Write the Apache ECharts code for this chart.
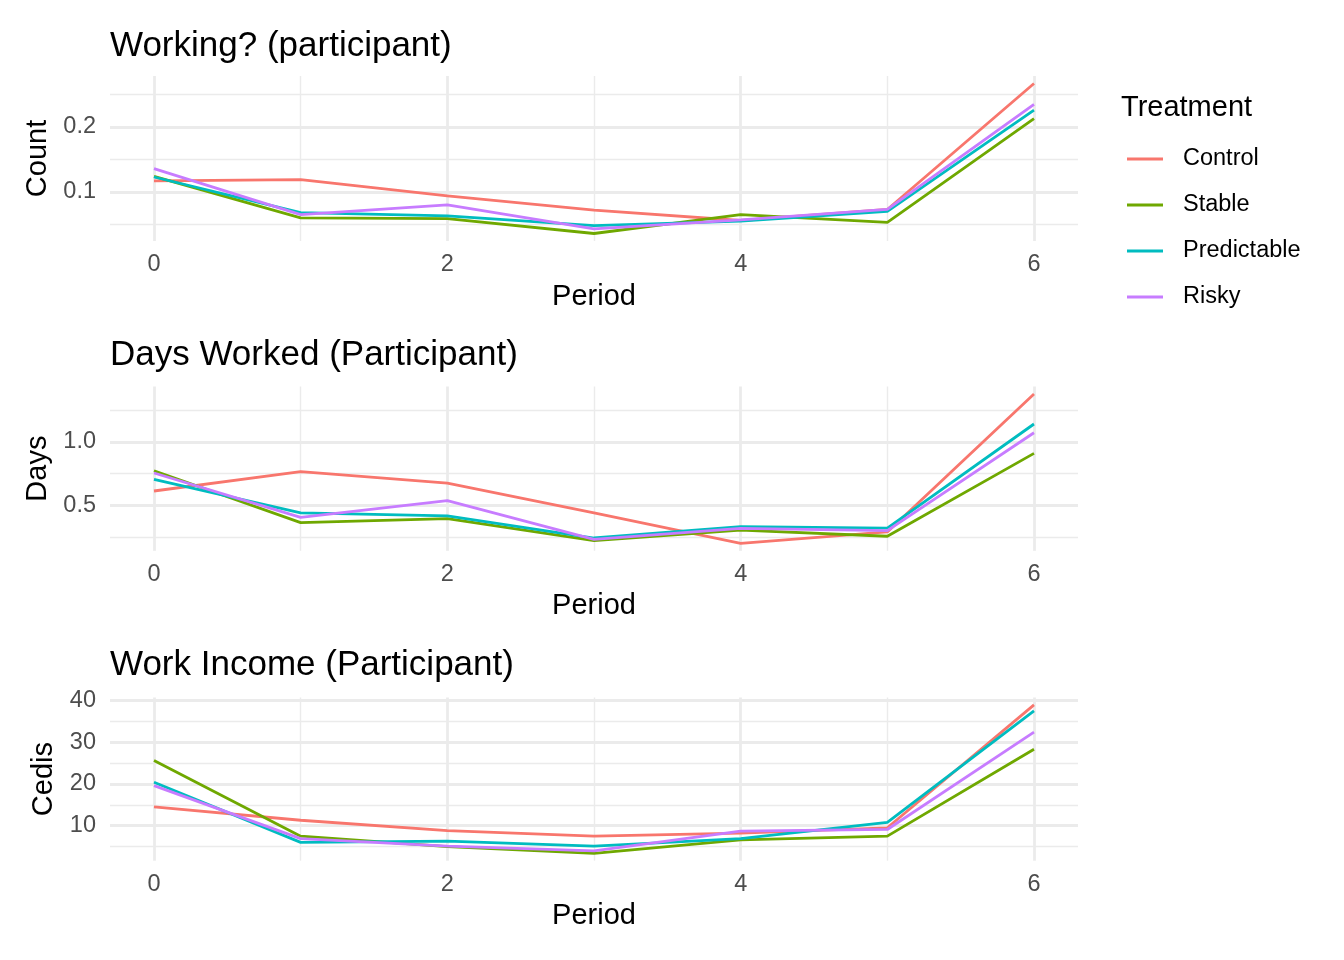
<!DOCTYPE html>
<html>
<head>
<meta charset="utf-8">
<script src="https://cdn.jsdelivr.net/npm/echarts@6/dist/echarts.min.js"></script>
<style>
html,body{margin:0;padding:0;background:#fff;}
#chart{width:1344px;height:960px;}
</style>
</head>
<body>
<div id="chart"></div>
<script>
// ---- data ----
const periods = [0, 1, 2, 3, 4, 5, 6];
const treatments = ['Control', 'Stable', 'Predictable', 'Risky'];
const panelTitles = ['Working? (participant)', 'Days Worked (Participant)', 'Work Income (Participant)'];
const yTitles = ['Count', 'Days', 'Cedis'];
const xTitle = 'Period';
const xTickLabels = [0, 2, 4, 6];
const xMinorTicks = [1, 3, 5];

const workingControl     = [0.117, 0.119, 0.094, 0.072, 0.056, 0.073, 0.267];
const workingStable      = [0.124, 0.060, 0.059, 0.036, 0.065, 0.053, 0.213];
const workingPredictable = [0.123, 0.068, 0.063, 0.048, 0.055, 0.070, 0.226];
const workingRisky       = [0.136, 0.065, 0.080, 0.043, 0.057, 0.073, 0.235];

const daysControl     = [0.613, 0.766, 0.676, 0.440, 0.200, 0.290, 1.379];
const daysStable      = [0.773, 0.363, 0.395, 0.221, 0.305, 0.256, 0.910];
const daysPredictable = [0.705, 0.440, 0.416, 0.242, 0.332, 0.320, 1.142];
const daysRisky       = [0.755, 0.405, 0.537, 0.232, 0.318, 0.300, 1.073];

const incomeControl     = [14.5, 11.3, 8.8, 7.5, 8.2, 9.5, 38.9];
const incomeStable      = [25.6, 7.5, 5.0, 3.4, 6.6, 7.5, 28.3];
const incomePredictable = [20.4, 6.0, 6.3, 5.1, 6.9, 10.8, 37.5];
const incomeRisky       = [19.6, 6.9, 5.1, 4.0, 8.7, 9.1, 32.4];

const yMajorTicks = [[0.1, 0.2], [0.5, 1.0], [10, 20, 30, 40]];
const yMinorTicks = [[0.05, 0.15, 0.25], [0.25, 0.75, 1.25], [5, 15, 25, 35]];

// ---- styling / layout ----
const colors = ['#F8766D', '#6FA800', '#00BCC0', '#C77CFF'];
const FONT = '"Liberation Sans", Arial, Helvetica, sans-serif';
const panelData = [
  [workingControl, workingStable, workingPredictable, workingRisky],
  [daysControl, daysStable, daysPredictable, daysRisky],
  [incomeControl, incomeStable, incomePredictable, incomeRisky]
];
const labelDigits = [1, 1, 0];
const gridTops = [76, 386.5, 697.5];
const gridHeights = [165, 164.3, 163.2];
const titleTops = [24, 333, 643];
const GRID_LEFT = 110, GRID_RIGHT = 266;

function paddedRange(arrs) {
  let mn = Infinity, mx = -Infinity;
  arrs.forEach(a => a.forEach(v => { mn = Math.min(mn, v); mx = Math.max(mx, v); }));
  const pad = (mx - mn) * 0.05;
  return [mn - pad, mx + pad];
}

const grids = [], xAxes = [], yAxes = [], series = [], titles = [];
panelData.forEach((arrs, p) => {
  grids.push({ left: GRID_LEFT, right: GRID_RIGHT, top: gridTops[p], height: gridHeights[p], containLabel: false });
  const [ymin, ymax] = paddedRange(arrs);
  xAxes.push({
    gridIndex: p, type: 'value', min: -0.3, max: 6.3,
    name: xTitle, nameLocation: 'middle', nameGap: 41,
    nameTextStyle: { fontFamily: FONT, fontSize: 29, color: '#000' },
    axisLine: { show: false },
    axisTick: { show: false, customValues: xTickLabels },
    axisLabel: { customValues: xTickLabels, fontFamily: FONT, fontSize: 23.5, color: '#4D4D4D', margin: 12 },
    splitLine: { show: true, lineStyle: { color: '#EBEBEB', width: 2.8 } },
    z: 0
  });
  xAxes.push({
    gridIndex: p, type: 'value', min: -0.3, max: 6.3,
    axisLine: { show: false },
    axisTick: { show: false, customValues: xMinorTicks },
    axisLabel: { show: false, customValues: xMinorTicks },
    splitLine: { show: true, lineStyle: { color: '#EBEBEB', width: 1.4 } },
    z: 0
  });
  const dig = labelDigits[p];
  yAxes.push({
    gridIndex: p, type: 'value', min: ymin, max: ymax,
    name: yTitles[p], nameLocation: 'middle', nameGap: 52, nameRotate: 90,
    nameTextStyle: { fontFamily: FONT, fontSize: 29, color: '#000' },
    axisLine: { show: false },
    axisTick: { show: false, customValues: yMajorTicks[p] },
    axisLabel: { customValues: yMajorTicks[p], fontFamily: FONT, fontSize: 23.5, color: '#4D4D4D', margin: 14,
      formatter: v => Number(v).toFixed(dig) },
    splitLine: { show: true, lineStyle: { color: '#EBEBEB', width: 2.8 } },
    z: 0
  });
  yAxes.push({
    gridIndex: p, type: 'value', min: ymin, max: ymax,
    axisLine: { show: false },
    axisTick: { show: false, customValues: yMinorTicks[p] },
    axisLabel: { show: false, customValues: yMinorTicks[p] },
    splitLine: { show: true, lineStyle: { color: '#EBEBEB', width: 1.4 } },
    z: 0
  });
  arrs.forEach((vals, s) => {
    series.push({
      name: treatments[s], type: 'line',
      xAxisIndex: p * 2, yAxisIndex: p * 2,
      data: periods.map((x, i) => [x, vals[i]]),
      showSymbol: false, symbol: 'none',
      lineStyle: { color: colors[s], width: 2.8 },
      itemStyle: { color: colors[s] },
      emphasis: { disabled: true },
      z: 5
    });
  });
  titles.push({
    text: panelTitles[p], left: 105, top: titleTops[p],
    textStyle: { fontFamily: FONT, fontSize: 35, fontWeight: 'normal', color: '#000' }
  });
});
titles.push({
  text: 'Treatment', left: 1116, top: 88,
  textStyle: { fontFamily: FONT, fontSize: 29, fontWeight: 'normal', color: '#000' }
});

const chart = echarts.init(document.getElementById('chart'), null, { renderer: 'canvas' });
chart.setOption({
  animation: false,
  backgroundColor: '#fff',
  title: titles,
  legend: {
    data: treatments, orient: 'vertical', left: 1122, top: 142,
    icon: 'rect', itemWidth: 36, itemHeight: 3, itemGap: 22,
    textStyle: { fontFamily: FONT, fontSize: 23.5, color: '#000', padding: [0, 0, 0, 15], lineHeight: 24 },
    selectedMode: false
  },
  grid: grids,
  xAxis: xAxes,
  yAxis: yAxes,
  series: series
});
</script>
</body>
</html>
